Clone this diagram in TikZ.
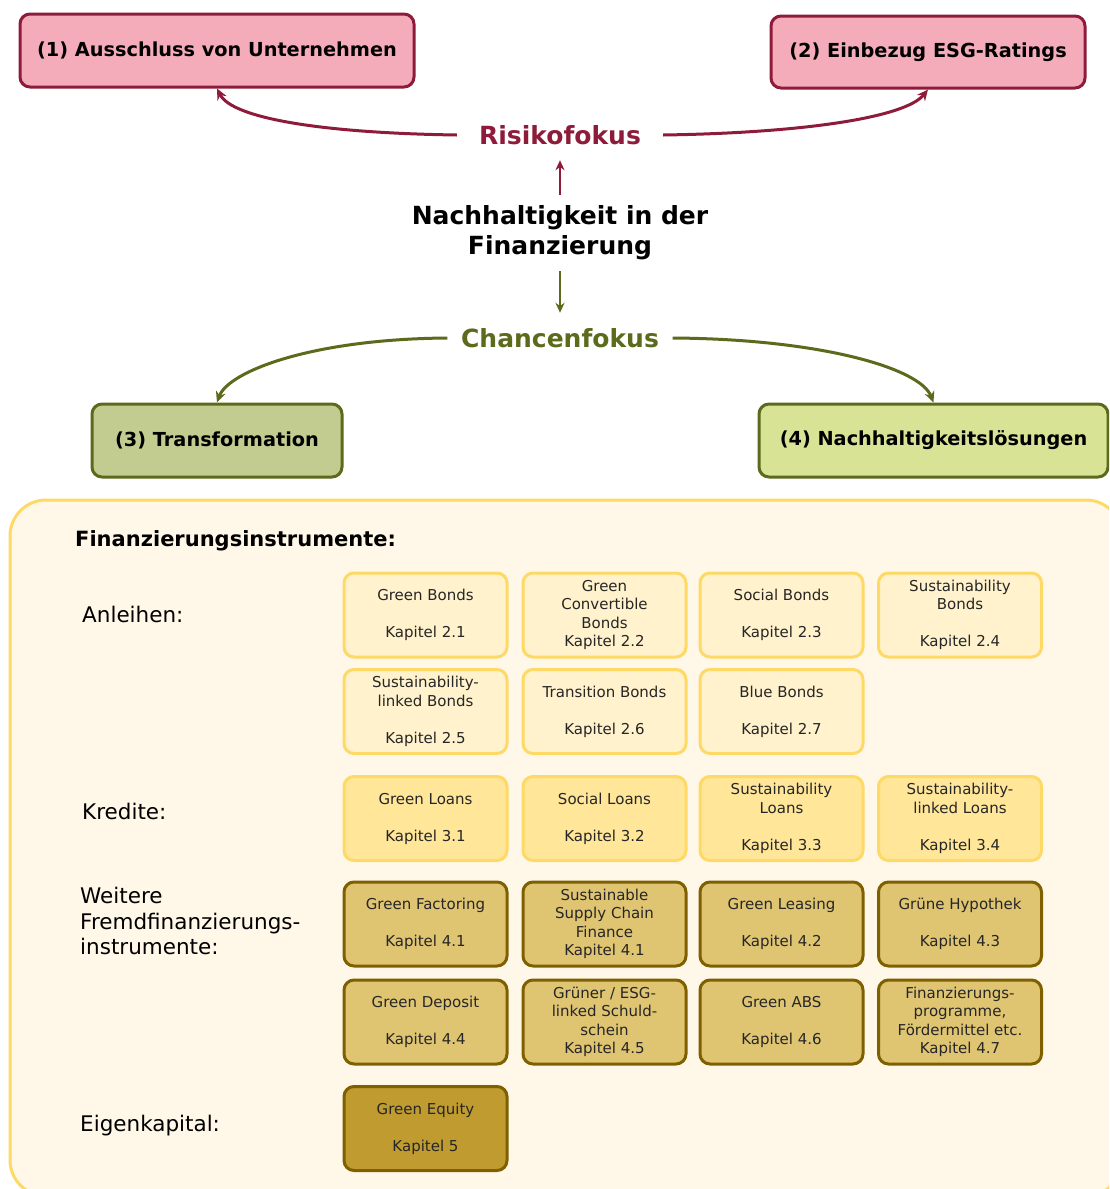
\documentclass[tikz,border=0pt]{standalone}
\usepackage{fontspec}
\setmainfont{DejaVu Sans}
\usetikzlibrary{arrows.meta}

\definecolor{riskred}{HTML}{8E1B39}
\definecolor{riskfill}{HTML}{F4ACBB}
\definecolor{chgreen}{HTML}{5B6A1B}
\definecolor{transfill}{HTML}{C2CC91}
\definecolor{solfill}{HTML}{D8E396}
\definecolor{panelfill}{HTML}{FFF8E8}
\definecolor{panelline}{HTML}{FFD966}
\definecolor{bondfill}{HTML}{FFF2CC}
\definecolor{loanfill}{HTML}{FFE699}
\definecolor{otherfill}{HTML}{DFC472}
\definecolor{equityfill}{HTML}{BF9B30}
\definecolor{brownline}{HTML}{7F6000}

\tikzset{
  topbox/.style={draw, line width=3pt, rounded corners=10pt, inner sep=0pt,
    font=\fontsize{19.3}{23}\selectfont\bfseries},
  focus/.style={inner sep=0pt, minimum height=50pt,
    font=\fontsize{25}{30}\selectfont\bfseries},
  flow/.style={line width=3pt, -{Stealth[length=11pt,width=10pt]}},
  vflow/.style={line width=2.5pt, -{Stealth[length=10pt,width=9pt]}},
  cell/.style={draw, line width=3pt, rounded corners=10pt, minimum width=163pt,
    minimum height=84pt, inner sep=0pt, align=center,
    font=\fontsize{15}{18.5}\selectfont, text=black!85},
  bond/.style={cell, fill=bondfill, draw=panelline},
  loan/.style={cell, fill=loanfill, draw=panelline},
  other/.style={cell, fill=otherfill, draw=brownline},
  equity/.style={cell, fill=equityfill, draw=brownline},
  rowlabel/.style={anchor=west, inner sep=0pt, align=left,
    font=\fontsize{21.5}{25.5}\selectfont}
}

\begin{document}
\begin{tikzpicture}[x=1pt, y=-1pt]
  \useasboundingbox (0,0) rectangle (1109,1189);
  \clip (0,0) rectangle (1109,1189);

  % instrument panel in the background
  \draw[line width=3pt, draw=panelline, fill=panelfill, rounded corners=36pt]
    (10,500) rectangle (1122,1196);

  % upper part: the two perspectives
  \node[topbox, fill=riskfill, draw=riskred, minimum width=394pt, minimum height=73pt]
    (excl) at (217,50.5) {(1) Ausschluss von Unternehmen};
  \node[topbox, fill=riskfill, draw=riskred, minimum width=314pt, minimum height=72pt]
    (esg) at (928,52) {(2) Einbezug ESG-Ratings};

  \node[focus, text=riskred, inner xsep=22pt] (risk) at (560,135) {Risikofokus};
  \node[inner sep=0pt, minimum height=76pt, align=center,
        font=\fontsize{25}{30}\selectfont\bfseries] (core) at (560,233)
        {Nachhaltigkeit in der\\Finanzierung};
  \node[focus, text=chgreen, inner xsep=13.5pt] (chance) at (560,338) {Chancenfokus};

  \node[topbox, fill=transfill, draw=chgreen, minimum width=250pt, minimum height=73pt]
    (trans) at (217,440.5) {(3) Transformation};
  \node[topbox, fill=solfill, draw=chgreen, minimum width=349pt, minimum height=73pt]
    (sol) at (933.5,440.5) {(4) Nachhaltigkeitslösungen};

  \draw[vflow, riskred] (core.north) -- (risk.south);
  \draw[vflow, chgreen] (core.south) -- (chance.north);

  \draw[flow, riskred] (risk.west) .. controls (320,133) and (232,118) .. (excl.south);
  \draw[flow, riskred] (risk.east) .. controls (800,133) and (905,118) .. (esg.south);
  \draw[flow, chgreen] (chance.west) .. controls (310,339) and (228,372) .. (trans.north);
  \draw[flow, chgreen] (chance.east) .. controls (820,339) and (920,368) .. (sol.north);

  % financing instruments
  \node[anchor=west, inner sep=0pt, font=\fontsize{21}{25}\selectfont\bfseries]
    (heading) at (75,541) {Finanzierungsinstrumente:};

  \node[rowlabel] (lbonds) at (82,614) {Anleihen:};
  \node[rowlabel] (lloans) at (82,811) {Kredite:};
  \node[rowlabel] (lother) at (80,921) {Weitere\\Fremdfinanzierungs-\\instrumente:};
  \node[rowlabel] (lequity) at (80,1126) {Eigenkapital:};

  % bonds
  \node[bond] (b21) at (425.5,615) {Green Bonds\\[18.5pt]Kapitel 2.1};
  \node[bond] (b22) at (604.5,615) {Green\\Convertible\\Bonds\\Kapitel 2.2};
  \node[bond] (b23) at (781.5,615) {Social Bonds\\[18.5pt]Kapitel 2.3};
  \node[bond] (b24) at (960,615) {Sustainability\\Bonds\\[18.5pt]Kapitel 2.4};
  \node[bond] (b25) at (425.5,711.5) {Sustainability-\\linked Bonds\\[18.5pt]Kapitel 2.5};
  \node[bond] (b26) at (604.5,711.5) {Transition Bonds\\[18.5pt]Kapitel 2.6};
  \node[bond] (b27) at (781.5,711.5) {Blue Bonds\\[18.5pt]Kapitel 2.7};

  % loans
  \node[loan] (k31) at (425.5,818.5) {Green Loans\\[18.5pt]Kapitel 3.1};
  \node[loan] (k32) at (604.5,818.5) {Social Loans\\[18.5pt]Kapitel 3.2};
  \node[loan] (k33) at (781.5,818.5) {Sustainability\\Loans\\[18.5pt]Kapitel 3.3};
  \node[loan] (k34) at (960,818.5) {Sustainability-\\linked Loans\\[18.5pt]Kapitel 3.4};

  % further debt instruments
  \node[other] (f41) at (425.5,924) {Green Factoring\\[18.5pt]Kapitel 4.1};
  \node[other] (f41b) at (604.5,924) {Sustainable\\Supply Chain\\Finance\\Kapitel 4.1};
  \node[other] (f42) at (781.5,924) {Green Leasing\\[18.5pt]Kapitel 4.2};
  \node[other] (f43) at (960,924) {Grüne Hypothek\\[18.5pt]Kapitel 4.3};
  \node[other] (f44) at (425.5,1022) {Green Deposit\\[18.5pt]Kapitel 4.4};
  \node[other] (f45) at (604.5,1022) {Grüner / ESG-\\linked Schuld-\\schein\\Kapitel 4.5};
  \node[other] (f46) at (781.5,1022) {Green ABS\\[18.5pt]Kapitel 4.6};
  \node[other] (f47) at (960,1022) {Finanzierungs-\\programme,\\Fördermittel etc.\\Kapitel 4.7};

  % equity
  \node[equity] (e5) at (425.5,1128.5) {Green Equity\\[18.5pt]Kapitel 5};
\end{tikzpicture}
\end{document}
